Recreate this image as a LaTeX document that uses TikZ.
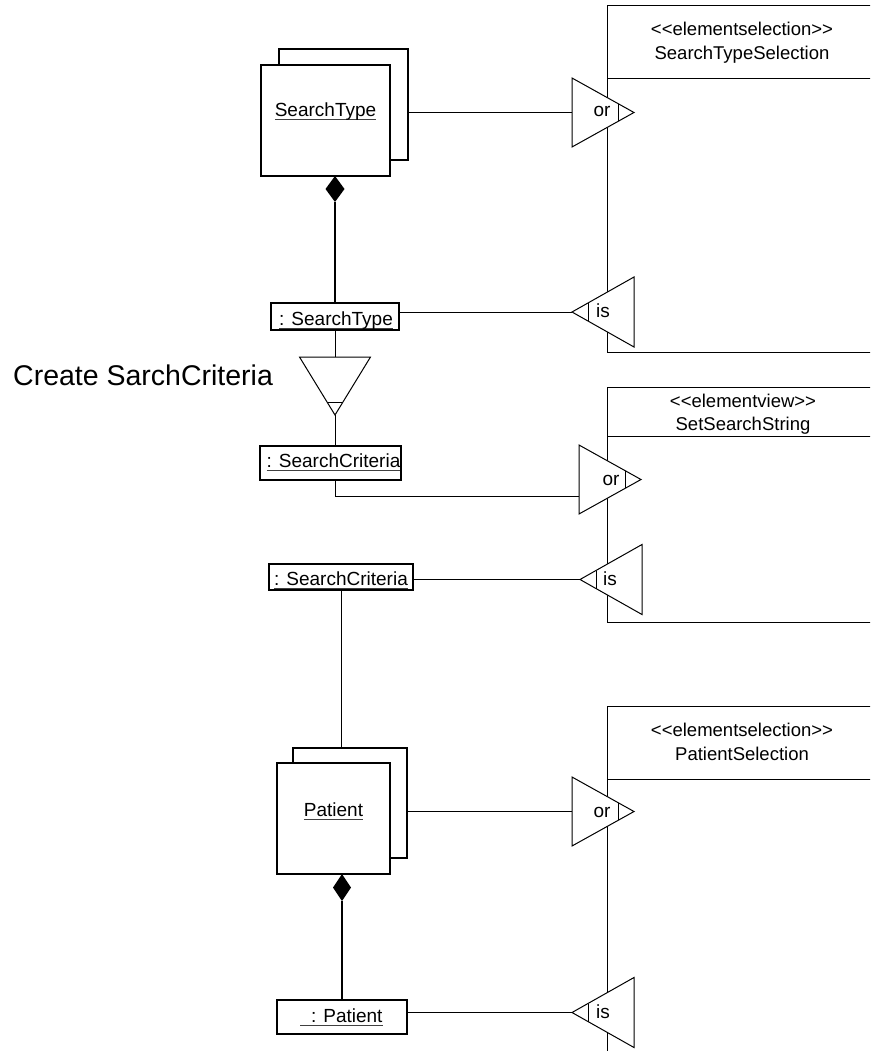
\documentclass[tikz,border=0pt]{standalone}
\usepackage{fontspec}
\setmainfont{Liberation Sans}[Ligatures=TeXOff]
% object names: text with a thin rule just under the baseline
\newcommand{\objname}[1]{\setbox0\hbox{#1}\rlap{\color{black!75}\rule[-3.4pt]{\wd0}{0.9pt}}\box0}
\begin{document}
\begin{tikzpicture}[x=1pt,y=-1pt,
  wire/.style={line width=1pt},
  heavy/.style={line width=1.8pt},
  panel/.style={draw,line width=1pt},
  tri/.style={draw,line width=1pt,fill=white,line join=miter},
  objbox/.style={draw,line width=1.8pt,fill=white,inner sep=0pt,outer sep=0pt},
  lbl/.style={inner sep=0pt,anchor=base,font=\fontsize{19}{23}\selectfont},
  hdr/.style={inner sep=0pt,anchor=base,font=\fontsize{18.5}{23}\selectfont},
  orgate/.pic={
    \coordinate (-w) at (0,0);
    \draw[tri] (0,-34.5) -- (62,0) -- (0,34.5) -- cycle;
    \draw[wire] (46,-8.9) -- (46,8.9);
  },
  isgate/.pic={
    \coordinate (-tip) at (0,0);
    \draw[tri] (0,0) -- (62,-35) -- (62,35) -- cycle;
    \draw[wire] (16,-9) -- (16,9);
  }]
\clip (0,0) rectangle (870,1051);
\fill[white] (0,0) rectangle (870,1051);

% right-hand panels with their header compartments
\draw[panel] (607,6) rectangle (880,352);
\draw[panel] (607,79) -- (880,79);
\node[hdr] (p1a) at (742,36) {<{}<elementselection>{}>};
\node[hdr] (p1b) at (742,60) {SearchTypeSelection};

\draw[panel] (607,387) rectangle (880,622);
\draw[panel] (607,436) -- (880,436);
\node[hdr] (p2a) at (743,407) {<{}<elementview>{}>};
\node[hdr] (p2b) at (743,430) {SetSearchString};

\draw[panel] (607,706) rectangle (880,1060);
\draw[panel] (607,779) -- (880,779);
\node[hdr] (p3a) at (742,736) {<{}<elementselection>{}>};
\node[hdr] (p3b) at (742,760) {PatientSelection};

% or / is gates
\pic (or1) at (572,112.5) {orgate};
\node[lbl] (or1t) at (602,117) {or};
\pic (is1) at (572,312) {isgate};
\node[lbl] (is1t) at (603,317) {is};
\pic (or2) at (579,479.5) {orgate};
\node[lbl] (or2t) at (611,485) {or};
\pic (is2) at (580,579.5) {isgate};
\node[lbl] (is2t) at (610,585) {is};
\pic (or3) at (572,811.5) {orgate};
\node[lbl] (or3t) at (602,817) {or};
\pic (is3) at (572,1012.5) {isgate};
\node[lbl] (is3t) at (603,1018) {is};

% SearchType multi-object
\node[objbox,minimum width=129,minimum height=111] (stB) at (343.5,104.5) {};
\node[objbox,minimum width=129,minimum height=111] (stF) at (325.5,120.5) {};
\node[lbl] (stl) at (325.5,117) {\objname{SearchType}};

% objects
\node[objbox,minimum width=128,minimum height=27] (st2) at (335,316.5) {};
\node[lbl] (st2l) at (336,325) {\objname{: SearchType}};
\node[objbox,minimum width=141,minimum height=34] (sc1) at (330.5,463) {};
\node[lbl] (sc1l) at (333.5,467) {\objname{: SearchCriteria}};
\node[objbox,minimum width=144,minimum height=26] (sc2) at (341,577) {};
\node[lbl] (sc2l) at (341,585) {\objname{: SearchCriteria}};

% Patient multi-object
\node[objbox,minimum width=114,minimum height=110] (ptB) at (350,803) {};
\node[objbox,minimum width=113,minimum height=111] (ptF) at (333.5,818.5) {};
\node[lbl] (ptl) at (333.5,816) {\objname{Patient}};
\node[objbox,minimum width=130,minimum height=34] (pto) at (342,1017) {};
\node[lbl] (ptol) at (341.5,1022) {\objname{\ \ : Patient}};

% composition diamonds
\coordinate (d1b) at (335,202);
\fill (d1b) -- ++(-9.5,-13) -- ++(9.5,-13) -- ++(9.5,13) -- cycle;
\draw[heavy] (d1b) -- (st2.north);
\coordinate (d2b) at (342,901);
\fill (d2b) -- ++(-9,-13.5) -- ++(9,-13.5) -- ++(9,13.5) -- cycle;
\draw[heavy] (d2b) -- (pto.north);

% creation triangle
\coordinate (crtip) at (335,415);
\coordinate (crtop) at (335,357);
\draw[tri] (crtip) -- ++(-35.5,-58) -- ++(71,0) -- cycle;
\draw[wire] (crtip) ++(-8,-13) -- ++(16,0);
\draw[wire] (st2.south) -- (crtop);
\draw[wire] (crtip) -- (sc1.north -| crtip);
\node[anchor=base west,inner sep=0pt,font=\fontsize{28.5}{34}\selectfont] (title) at (13,385) {Create SarchCriteria};

% connectors to the gates
\draw[wire] (stB.east |- or1-w) -- (or1-w);
\draw[wire] (st2.east |- is1-tip) -- (is1-tip);
\coordinate (sc1turn) at (335,496);
\draw[wire] (sc1.south -| sc1turn) -- (sc1turn) -- (or2-w |- sc1turn);
\draw[wire] (sc2.east |- is2-tip) -- (is2-tip);
\draw[wire] (sc2.south) -- (sc2.south |- ptB.north);
\draw[wire] (ptB.east |- or3-w) -- (or3-w);
\draw[wire] (pto.east |- is3-tip) -- (is3-tip);
\end{tikzpicture}
\end{document}
